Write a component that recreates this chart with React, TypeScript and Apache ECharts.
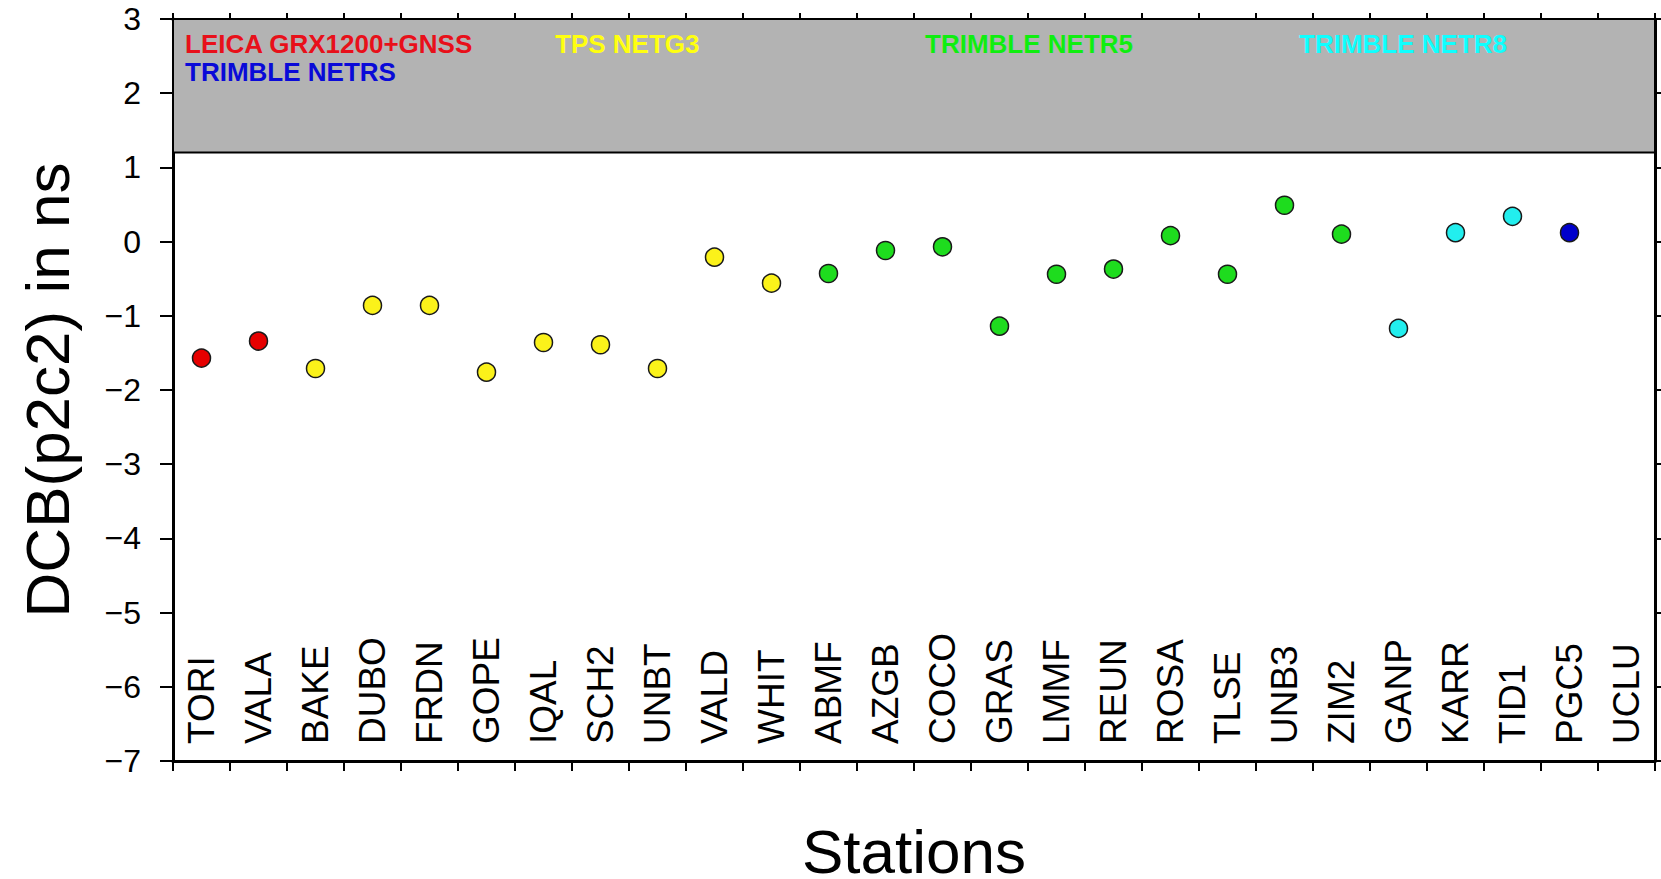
import React, { useEffect, useRef } from "react";
import * as echarts from "echarts";

const stations = [
  "TORI", "VALA", "BAKE", "DUBO", "FRDN", "GOPE", "IQAL", "SCH2", "UNBT", "VALD",
  "WHIT", "ABMF", "AZGB", "COCO", "GRAS", "LMMF", "REUN", "ROSA", "TLSE", "UNB3",
  "ZIM2", "GANP", "KARR", "TID1", "PGC5", "UCLU",
];

const dcbValues: (number | null)[] = [
  -1.57, -1.34, -1.71, -0.86, -0.86, -1.76, -1.36, -1.39, -1.71, -0.21,
  -0.56, -0.43, -0.12, -0.07, -1.14, -0.44, -0.37, 0.08, -0.44, 0.49,
  0.10, -1.17, 0.12, 0.34, 0.12, null,
];

const receiverOfStation: (string | null)[] = [
  "LEICA GRX1200+GNSS", "LEICA GRX1200+GNSS",
  "TPS NETG3", "TPS NETG3", "TPS NETG3", "TPS NETG3", "TPS NETG3", "TPS NETG3", "TPS NETG3", "TPS NETG3", "TPS NETG3",
  "TRIMBLE NETR5", "TRIMBLE NETR5", "TRIMBLE NETR5", "TRIMBLE NETR5", "TRIMBLE NETR5", "TRIMBLE NETR5", "TRIMBLE NETR5", "TRIMBLE NETR5", "TRIMBLE NETR5", "TRIMBLE NETR5",
  "TRIMBLE NETR8", "TRIMBLE NETR8", "TRIMBLE NETR8",
  "TRIMBLE NETRS",
  null,
];

const receiverTypes = ["LEICA GRX1200+GNSS", "TRIMBLE NETRS", "TPS NETG3", "TRIMBLE NETR5", "TRIMBLE NETR8"];
const receiverPointColors = ["#e60000", "#0000cc", "#fbf21a", "#1edc1e", "#22eeee"];
const receiverTextColors = ["#e8101a", "#0a0ad8", "#ffff10", "#10ee10", "#10ffff"];

const yTicks = { min: -7, max: 3, interval: 1 };
const bandLow = 1.2;
const bandHigh = 3;

const FONT = "'Liberation Sans', Arial, Helvetica, sans-serif";

export default function App() {
  const ref = useRef<HTMLDivElement>(null);
  useEffect(() => {
    if (!ref.current) return;
    const chart = echarts.init(ref.current, null, { renderer: "svg" });

    const series: any[] = receiverTypes.map((type, ti) => ({
      type: "scatter",
      name: type,
      xAxisIndex: 0,
      yAxisIndex: 0,
      symbol: "circle",
      symbolSize: 18,
      itemStyle: { color: receiverPointColors[ti], borderColor: "#1a1a1a", borderWidth: 1.5, opacity: 1 },
      data: stations.map((s, i) =>
        receiverOfStation[i] === type && dcbValues[i] !== null ? dcbValues[i] : "-"
      ),
      z: 5,
    }));

    series[0].markArea = {
      silent: true,
      itemStyle: { color: "#b3b3b3", borderColor: "#000", borderWidth: 2 },
      data: [[{ yAxis: bandLow }, { yAxis: bandHigh }]],
    };

    const legendPos = [
      { x: 185, y: 44 },
      { x: 185, y: 72 },
      { x: 555, y: 44 },
      { x: 925, y: 44 },
      { x: 1299, y: 44 },
    ];

    const axisLineStyle = { color: "#000", width: 3 };

    chart.setOption({
      animation: false,
      backgroundColor: "#fff",
      grid: {
        left: 173,
        right: 6,
        top: 19,
        bottom: 118,
        containLabel: false,
        outerBoundsMode: "none",
      },
      xAxis: [
        {
          type: "category",
          data: stations,
          position: "bottom",
          boundaryGap: true,
          axisLine: { show: true, onZero: false, lineStyle: axisLineStyle },
          axisTick: { show: true, length: 10, interval: 0, lineStyle: { color: "#000", width: 2 } },
          axisLabel: {
            show: true,
            inside: true,
            rotate: 90,
            margin: 17,
            interval: 0,
            fontSize: 37,
            color: "#000",
            fontFamily: FONT,
          },
          splitLine: { show: false },
          name: "Stations",
          nameLocation: "middle",
          nameGap: 90,
          nameTextStyle: {
            fontSize: 62,
            lineHeight: 56,
            verticalAlign: "middle",
            color: "#000",
            fontFamily: FONT,
          },
        },
        {
          type: "category",
          data: stations,
          position: "top",
          boundaryGap: true,
          axisLine: { show: true, onZero: false, lineStyle: axisLineStyle },
          axisTick: { show: true, length: 6, interval: 0, lineStyle: { color: "#000", width: 2 } },
          axisLabel: { show: false },
          splitLine: { show: false },
        },
      ],
      yAxis: [
        {
          type: "value",
          position: "left",
          min: yTicks.min,
          max: yTicks.max,
          interval: yTicks.interval,
          axisLine: { show: true, onZero: false, lineStyle: axisLineStyle },
          axisTick: { show: true, length: 13, lineStyle: { color: "#000", width: 2 } },
          axisLabel: {
            show: true,
            margin: 32,
            fontSize: 32,
            color: "#000",
            fontFamily: FONT,
            formatter: (v: number) => (v < 0 ? "\u2212" + Math.abs(v) : String(v)),
          },
          splitLine: { show: false },
          name: "DCB(p2c2) in ns",
          nameLocation: "middle",
          nameGap: 95,
          nameTextStyle: { fontSize: 62, color: "#000", fontFamily: FONT },
        },
        {
          type: "value",
          position: "right",
          min: yTicks.min,
          max: yTicks.max,
          interval: yTicks.interval,
          axisLine: { show: true, onZero: false, lineStyle: axisLineStyle },
          axisTick: { show: true, length: 10, lineStyle: { color: "#000", width: 2 } },
          axisLabel: { show: false },
          splitLine: { show: false },
        },
      ],
      graphic: receiverTypes.map((type, ti) => ({
        type: "text",
        x: legendPos[ti].x,
        y: legendPos[ti].y,
        z: 100,
        style: {
          text: type,
          fill: receiverTextColors[ti],
          font: `bold 26px ${FONT}`,
          textAlign: "left",
          textVerticalAlign: "middle",
        },
      })),
      series,
    });

    return () => chart.dispose();
  }, []);

  return (
    <div
      ref={ref}
      style={{ position: "absolute", left: 0, top: 0, width: 1661, height: 879 }}
    />
  );
}
